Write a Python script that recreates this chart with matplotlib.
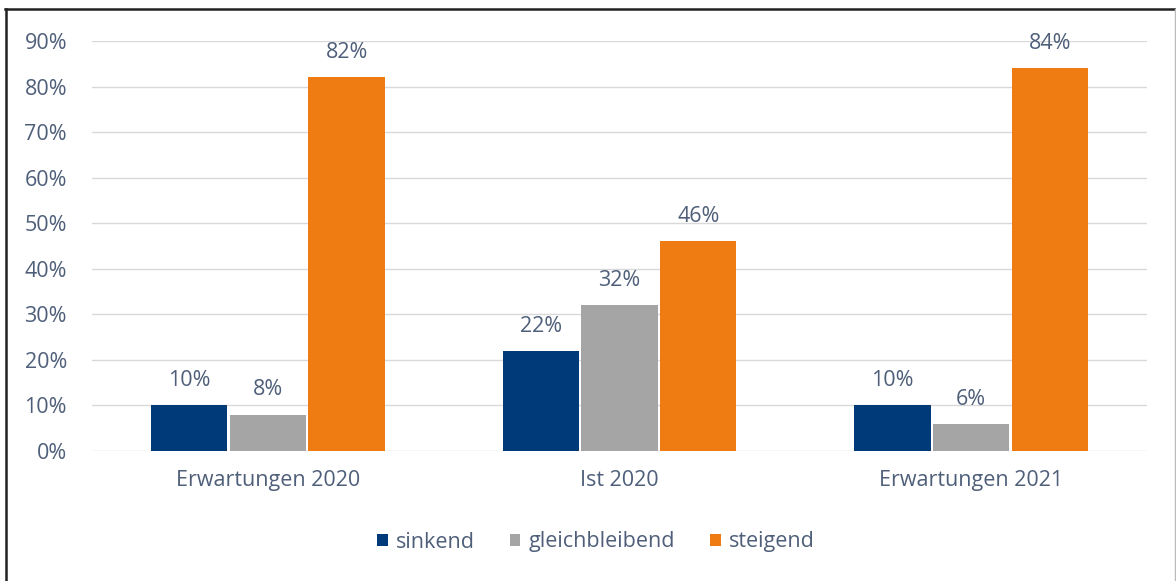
import numpy as np
import matplotlib.pyplot as plt
from matplotlib.lines import Line2D

categories = ['Erwartungen 2020', 'Ist 2020', 'Erwartungen 2021']
series = ['sinkend', 'gleichbleibend', 'steigend']
sinkend = [0.10, 0.22, 0.10]
gleichbleibend = [0.08, 0.32, 0.06]
steigend = [0.82, 0.46, 0.84]
labels_sinkend = ['10%', '22%', '10%']
labels_gleich = ['8%', '32%', '6%']
labels_steigend = ['82%', '46%', '84%']

colors = ['#003a78', '#a5a5a5', '#ef7c12']
text_color = '#4f5f7a'

plt.rcParams['font.family'] = ['Open Sans', 'DejaVu Sans']

fig = plt.figure(figsize=(11.76, 5.81), dpi=100)
ax = fig.add_axes([92 / 1176, 1 - 451 / 581, 1055 / 1176, 410 / 581])

x = np.arange(len(categories))
step = 0.224
w = 0.217
values = [sinkend, gleichbleibend, steigend]
texts = [labels_sinkend, labels_gleich, labels_steigend]
for i, (vals, lab) in enumerate(zip(values, texts)):
    pos = x + (i - 1) * step
    bars = ax.bar(pos, vals, width=w, color=colors[i], label=series[i], zorder=3)
    for b, t in zip(bars, lab):
        ax.text(b.get_x() + b.get_width() / 2, b.get_height() + 0.031, t,
                ha='center', va='bottom', fontsize=15.5, color=text_color)

ax.set_xlim(-0.5, 2.5)
ax.set_ylim(0, 0.9)
ticks = np.arange(0, 0.91, 0.1)
ax.set_yticks(ticks)
ax.set_yticklabels([f'{int(round(v * 100))}%' for v in ticks])
ax.set_xticks(x)
ax.set_xticklabels(categories)
ax.tick_params(axis='both', length=0, labelsize=15.5, colors=text_color)
ax.tick_params(axis='x', pad=14)
ax.tick_params(axis='y', pad=18)
ax.grid(axis='y', color='#d9d9d9', linewidth=1, zorder=0)
for s in ax.spines.values():
    s.set_visible(False)

leg = fig.legend(loc='center', bbox_to_anchor=(596 / 1176, 1 - 542 / 581), ncol=3, frameon=False,
                 fontsize=15.5, handlelength=0.5, handleheight=0.5, columnspacing=1.6,
                 handletextpad=0.4)
for t in leg.get_texts():
    t.set_color(text_color)

# figure border (top, left, right)
fig.add_artist(Line2D([5 / 1176, 1175 / 1176], [1 - 9 / 581, 1 - 9 / 581], color='#222222', linewidth=1.8))
fig.add_artist(Line2D([6 / 1176, 6 / 1176], [0, 1 - 9 / 581], color='#222222', linewidth=1.8))
fig.add_artist(Line2D([1175 / 1176, 1175 / 1176], [0, 1 - 9 / 581], color='#bbbbbb', linewidth=1))

fig.savefig('out.png', dpi=100)
